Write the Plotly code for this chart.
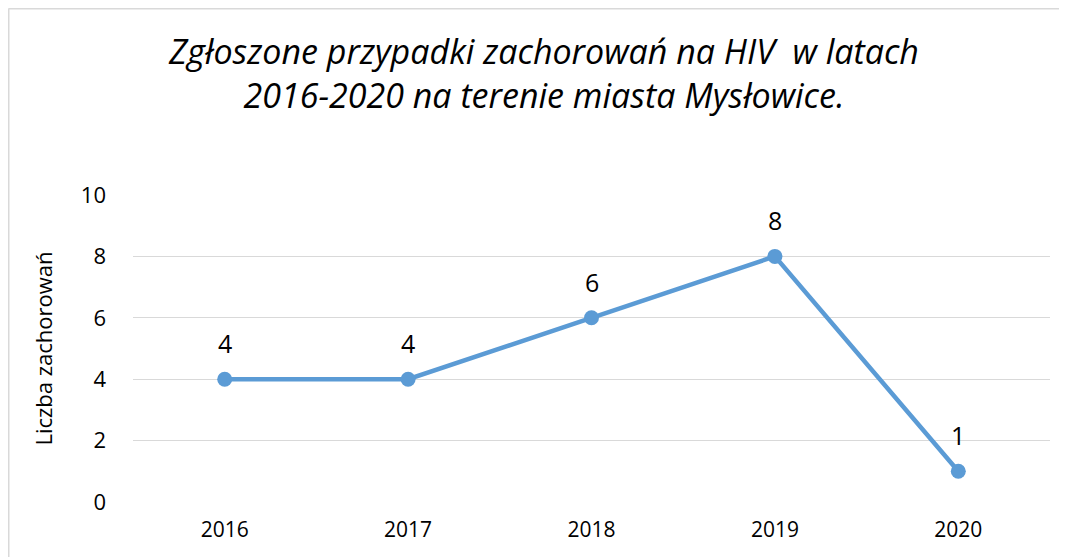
import plotly.graph_objects as go

years = ["2016", "2017", "2018", "2019", "2020"]
cases = [4, 4, 6, 8, 1]
title_lines = ["Zgłoszone przypadki zachorowań na HIV  w latach", "2016-2020 na terenie miasta Mysłowice."]
y_title = "Liczba zachorowań"

FONT = "'Open Sans', sans-serif"
# page has 8px body margin, so the figure is sized to fit the 1067x557 window
W, H = 1059, 549
L, R, T, B = 125, 17, 187, 55
pw, ph = W - L - R, H - T - B

def px_x(p):
    return (p - L) / pw

def px_y(p):
    return (H - B - p) / ph

fig = go.Figure()
fig.add_trace(go.Scatter(
    x=list(range(len(years))), y=cases, mode="lines+markers",
    line=dict(color="#5B9BD5", width=4.5),
    marker=dict(color="#5B9BD5", size=15),
    hoverinfo="skip", showlegend=False,
))

for i, yv in enumerate(cases):
    fig.add_annotation(x=i, y=yv, xref="x", yref="y", text=str(yv), showarrow=False,
                       yshift=36, font=dict(family=FONT, size=25, color="#000000"))

fig.update_layout(
    width=W, height=H,
    margin=dict(l=L, r=R, t=T, b=B),
    paper_bgcolor="white", plot_bgcolor="white",
    title=dict(
        text="<br>".join(title_lines),
        x=536 / W, xanchor="center", y=1 - 56 / H, yanchor="middle",
        font=dict(family=FONT, size=34, color="#000000", style="italic"),
    ),
    xaxis=dict(
        range=[-0.5, 4.5], tickmode="array", tickvals=list(range(len(years))),
        ticktext=years, showgrid=False, zeroline=False,
        showline=False, ticks="", ticklabelstandoff=13,
        tickfont=dict(family=FONT, size=21, color="#000000"),
    ),
    yaxis=dict(
        range=[0, 10], dtick=2, showgrid=True, gridcolor="#D9D9D9", gridwidth=1.3,
        zeroline=False, showline=False, ticks="", ticklabelstandoff=26,
        tickfont=dict(family=FONT, size=22, color="#000000"),
        title=dict(text=y_title, standoff=22,
                   font=dict(family=FONT, size=22, color="#000000")),
    ),
)

# Outer chart border (top and left visible)
fig.add_shape(type="line", xref="paper", yref="paper",
              x0=px_x(0.5), x1=px_x(W + 5), y0=px_y(0.5), y1=px_y(0.5),
              line=dict(color="#D9D9D9", width=2))
fig.add_shape(type="line", xref="paper", yref="paper",
              x0=px_x(0.5), x1=px_x(0.5), y0=px_y(0.5), y1=px_y(H + 5),
              line=dict(color="#D9D9D9", width=2))

fig.write_html("out.html")
